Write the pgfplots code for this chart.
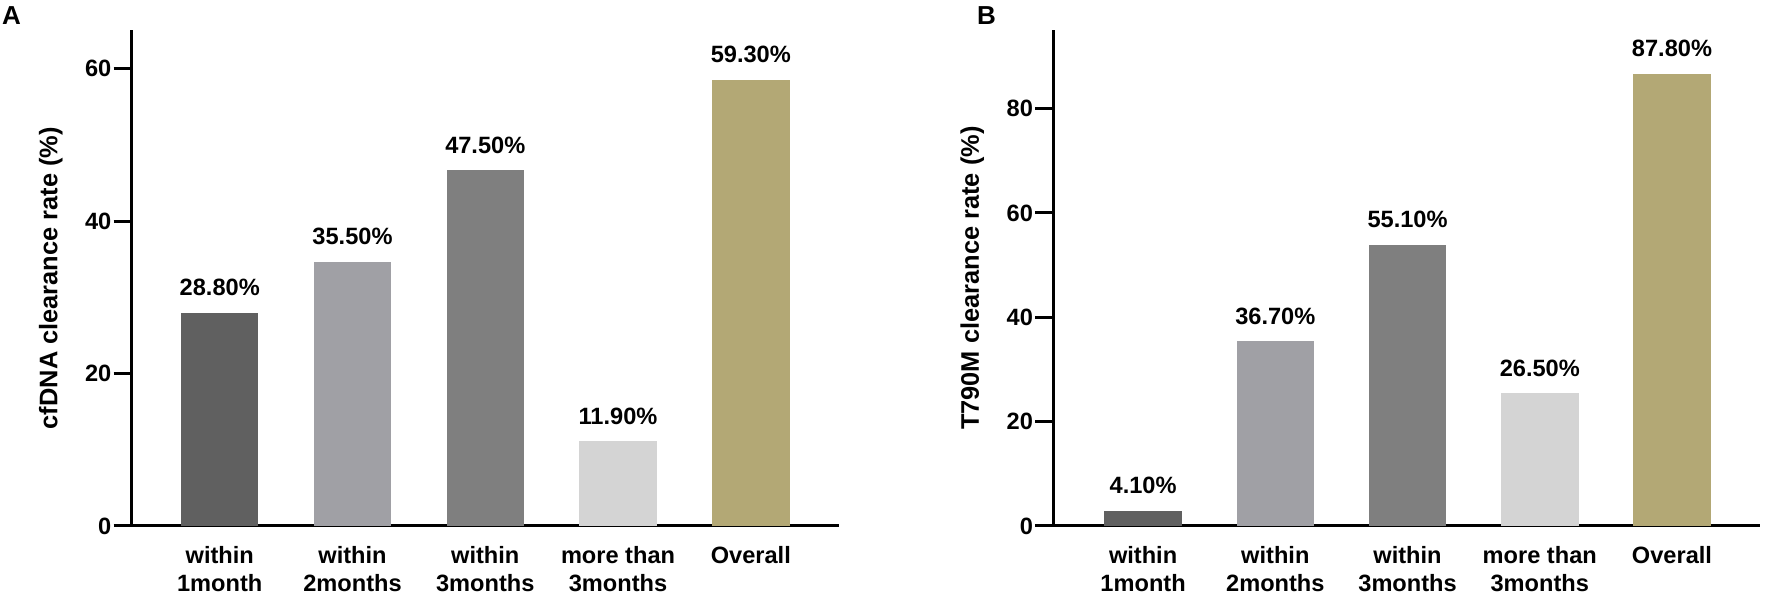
\documentclass[border=0pt]{standalone}
\usepackage{fontspec}
\setmainfont{Liberation Sans}
\usepackage{pgfplots}
\pgfplotsset{compat=1.18}
\definecolor{c1}{RGB}{96,96,96}
\definecolor{c2}{RGB}{160,160,165}
\definecolor{c3}{RGB}{127,127,127}
\definecolor{c4}{RGB}{212,212,212}
\definecolor{c5}{RGB}{179,168,117}
\pgfplotsset{
  panel/.style={
    anchor=south west, scale only axis,
    width=353.5pt, height=247.8pt,
    axis lines=left,
    axis line style={-, line width=1.5pt, black},
    ymin=0,
    xtick={0,1,2,3,4},
    xticklabels={{within\\1month},{within\\2months},{within\\3months},{more than\\3months},{Overall}},
    xtick style={draw=none},
    ytick style={line width=1.5pt, black},
    tick align=outside, major tick length=9pt,
    /pgf/number format/assume math mode=true,
    yticklabel style={font=\bfseries\fontsize{11.8}{14}\selectfont, inner sep=0pt, anchor=east, xshift=-1pt},
    xticklabel style={font=\bfseries\fontsize{11.8}{14}\selectfont, align=center, inner sep=0pt, anchor=north, yshift=-1pt},
    ylabel style={font=\bfseries\fontsize{12.7}{14}\selectfont, at={(axis description cs:-0.1145,0.5)}, anchor=center},
    ybar, bar width=38.75pt,
    point meta=explicit symbolic,
    nodes near coords={\pgfplotspointmeta\%},
    every node near coord/.append style={font=\bfseries\fontsize{11.8}{14}\selectfont, inner sep=0pt, anchor=south, yshift=8.3pt, black},
  },
  b/.style={fill=#1, draw=none, bar shift=0pt},
}
\begin{document}
\begin{tikzpicture}
\useasboundingbox (0,0) rectangle (886pt,298.5pt);
\node[anchor=north west, inner sep=0pt, font=\bfseries\fontsize{13}{15}\selectfont] at (0.85pt,295.5pt) {A};
\node[anchor=north west, inner sep=0pt, font=\bfseries\fontsize{13}{15}\selectfont] at (488.3pt,295.5pt) {B};
\begin{axis}[panel, at={(65.85pt,35.5pt)}, xmin=-0.663, xmax=4.662, ymax=65,
  ytick={0,20,40,60}, ylabel={cfDNA clearance rate (\%)}]
\addplot[b=c1] coordinates {(0,27.97) [28.80]};
\addplot[b=c2] coordinates {(1,34.66) [35.50]};
\addplot[b=c3] coordinates {(2,46.65) [47.50]};
\addplot[b=c4] coordinates {(3,11.1) [11.90]};
\addplot[b=c5] coordinates {(4,58.5) [59.30]};
\end{axis}
\begin{axis}[panel, at={(526.65pt,35.5pt)}, xmin=-0.679, xmax=4.668, ymax=95,
  ytick={0,20,40,60,80}, ylabel={T790M clearance rate (\%)}]
\addplot[b=c1] coordinates {(0,2.9) [4.10]};
\addplot[b=c2] coordinates {(1,35.4) [36.70]};
\addplot[b=c3] coordinates {(2,53.9) [55.10]};
\addplot[b=c4] coordinates {(3,25.4) [26.50]};
\addplot[b=c5] coordinates {(4,86.7) [87.80]};
\end{axis}
\end{tikzpicture}
\end{document}
